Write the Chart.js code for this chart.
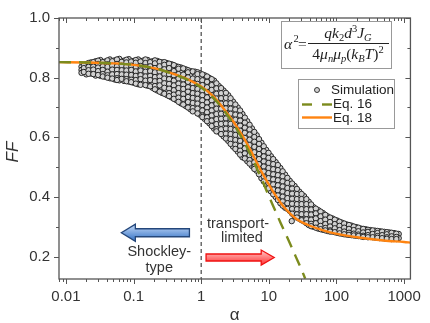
<!DOCTYPE html>
<html>
<head>
<meta charset="utf-8">
<script src="https://cdn.jsdelivr.net/npm/chart.js@4.4.1/dist/chart.umd.min.js"></script>
<style>
  body { margin: 0; background: #fff; }
  #wrap { width: 430px; height: 323px; }
</style>
</head>
<body>
<div id="wrap"><canvas id="ffChart"></canvas></div>
<script>
// axis ticks
const alphaTicks = [0.01, 0.1, 1, 10, 100, 1000];
const ffTicks = [0.2, 0.4, 0.6, 0.8, 1.0];
const ffMinorTicks = [0.3, 0.5, 0.7, 0.9];

// simulation cloud: one column of FF values per alpha
const simAlpha = [
  0.0170, 0.0200, 0.0234, 0.0275, 0.0324, 0.0380, 0.0447, 0.0525, 0.0617, 0.0724,
  0.0851, 0.100, 0.117, 0.138, 0.162, 0.191, 0.224, 0.263, 0.309, 0.363,
  0.427, 0.501, 0.589, 0.692, 0.813, 0.955, 1.12, 1.32, 1.55, 1.82,
  2.14, 2.51, 2.95, 3.47, 4.07, 4.79, 5.62, 6.61, 7.76, 9.12,
  10.7, 12.6, 14.8, 17.4, 20.4, 24.0, 28.2, 33.1, 38.9, 45.7,
  53.7, 63.1, 74.1, 87.1, 102, 120, 141, 166, 195, 229,
  269, 316, 372, 437, 513, 603, 708, 832, 21.8,
  0.0184, 0.0216, 0.0254, 0.0299, 0.0351, 0.0412, 0.0484, 0.0569, 0.0668, 0.0785,
  0.0923, 0.108, 0.127, 0.150, 0.176, 0.207, 0.243, 0.285, 0.335, 0.394,
  0.462, 0.543, 0.638, 0.750, 0.881, 1.04, 1.22, 1.43, 1.68, 1.97,
  2.32, 2.72, 3.20, 3.76, 4.42, 5.19, 6.10, 7.16, 8.41, 9.89,
  11.6, 13.6, 16.0, 18.8, 22.1, 26.0, 30.5, 35.9, 42.2, 49.5,
  58.2, 68.4, 80.4, 94.4, 111, 130, 153, 180, 211, 248,
  292, 343, 403, 473, 556, 653, 767
];
const simFF = [
  [0.837, 0.826, 0.816],
  [0.846, 0.831, 0.821, 0.811],
  [0.851, 0.839, 0.824, 0.814],
  [0.855, 0.844, 0.830, 0.818, 0.807],
  [0.859, 0.848, 0.833, 0.821, 0.806],
  [0.854, 0.840, 0.829, 0.814, 0.803],
  [0.861, 0.849, 0.834, 0.822, 0.807, 0.798],
  [0.858, 0.843, 0.831, 0.815, 0.803, 0.794],
  [0.863, 0.850, 0.835, 0.821, 0.805, 0.791],
  [0.857, 0.845, 0.829, 0.817, 0.801, 0.789],
  [0.862, 0.846, 0.833, 0.818, 0.804, 0.787],
  [0.856, 0.843, 0.827, 0.813, 0.796, 0.783],
  [0.861, 0.847, 0.833, 0.816, 0.803, 0.788, 0.778],
  [0.857, 0.841, 0.828, 0.811, 0.797, 0.782],
  [0.859, 0.846, 0.830, 0.816, 0.799, 0.787, 0.773],
  [0.855, 0.839, 0.826, 0.809, 0.796, 0.779, 0.766],
  [0.856, 0.842, 0.825, 0.812, 0.795, 0.782, 0.765, 0.757],
  [0.851, 0.835, 0.822, 0.805, 0.791, 0.774, 0.761, 0.749],
  [0.849, 0.836, 0.818, 0.804, 0.786, 0.772, 0.755, 0.742],
  [0.845, 0.829, 0.815, 0.797, 0.783, 0.765, 0.751, 0.734],
  [0.838, 0.823, 0.805, 0.791, 0.773, 0.759, 0.741, 0.725],
  [0.834, 0.817, 0.803, 0.785, 0.771, 0.753, 0.739, 0.721, 0.714],
  [0.828, 0.813, 0.795, 0.781, 0.763, 0.749, 0.731, 0.717, 0.705],
  [0.822, 0.805, 0.791, 0.772, 0.758, 0.740, 0.726, 0.708, 0.694],
  [0.820, 0.805, 0.787, 0.772, 0.754, 0.740, 0.721, 0.707, 0.689],
  [0.815, 0.798, 0.784, 0.765, 0.751, 0.732, 0.718, 0.699, 0.685, 0.676],
  [0.808, 0.793, 0.774, 0.760, 0.741, 0.727, 0.708, 0.693, 0.675, 0.662],
  [0.799, 0.782, 0.767, 0.748, 0.734, 0.715, 0.700, 0.681, 0.666, 0.647],
  [0.790, 0.774, 0.755, 0.741, 0.722, 0.707, 0.688, 0.673, 0.654, 0.639, 0.629],
  [0.772, 0.756, 0.737, 0.722, 0.703, 0.688, 0.669, 0.654, 0.635, 0.619],
  [0.757, 0.739, 0.724, 0.705, 0.690, 0.671, 0.655, 0.636, 0.621, 0.603],
  [0.741, 0.725, 0.706, 0.691, 0.671, 0.656, 0.637, 0.622, 0.603, 0.588],
  [0.720, 0.702, 0.687, 0.668, 0.653, 0.633, 0.618, 0.599, 0.584, 0.569],
  [0.700, 0.684, 0.665, 0.649, 0.630, 0.615, 0.596, 0.581, 0.562, 0.552],
  [0.678, 0.660, 0.645, 0.626, 0.610, 0.591, 0.576, 0.557, 0.542, 0.533],
  [0.654, 0.638, 0.619, 0.603, 0.584, 0.569, 0.550, 0.535, 0.520],
  [0.630, 0.612, 0.597, 0.577, 0.562, 0.543, 0.528, 0.509, 0.504],
  [0.607, 0.591, 0.572, 0.557, 0.537, 0.522, 0.503, 0.488],
  [0.582, 0.564, 0.549, 0.530, 0.515, 0.496, 0.481, 0.463],
  [0.558, 0.542, 0.523, 0.508, 0.489, 0.474, 0.455, 0.440],
  [0.537, 0.519, 0.504, 0.485, 0.470, 0.451, 0.436, 0.419],
  [0.517, 0.501, 0.482, 0.467, 0.448, 0.433, 0.414, 0.400],
  [0.497, 0.479, 0.464, 0.445, 0.430, 0.411, 0.396, 0.379],
  [0.475, 0.459, 0.440, 0.425, 0.406, 0.391, 0.372, 0.364],
  [0.454, 0.436, 0.421, 0.402, 0.387, 0.368, 0.353],
  [0.437, 0.421, 0.402, 0.387, 0.368, 0.353, 0.336],
  [0.418, 0.400, 0.385, 0.366, 0.351, 0.332, 0.327],
  [0.403, 0.387, 0.368, 0.353, 0.334, 0.318],
  [0.384, 0.366, 0.351, 0.332, 0.317, 0.306],
  [0.366, 0.351, 0.333, 0.319, 0.300],
  [0.356, 0.340, 0.326, 0.308, 0.294],
  [0.346, 0.332, 0.315, 0.302, 0.290],
  [0.335, 0.319, 0.306, 0.290, 0.286],
  [0.328, 0.314, 0.297, 0.284],
  [0.321, 0.305, 0.293, 0.280],
  [0.314, 0.301, 0.285, 0.277],
  [0.308, 0.294, 0.283, 0.274],
  [0.304, 0.292, 0.278, 0.272],
  [0.299, 0.286, 0.276, 0.270],
  [0.294, 0.284, 0.271, 0.268],
  [0.292, 0.279, 0.268],
  [0.289, 0.278, 0.266],
  [0.287, 0.275, 0.264],
  [0.285, 0.274, 0.262],
  [0.283, 0.270, 0.261],
  [0.281, 0.269, 0.260],
  [0.279, 0.267, 0.259],
  [0.276, 0.262],
  [0.319],
  // staggered columns
  [0.842, 0.832, 0.819],
  [0.849, 0.836, 0.825, 0.813],
  [0.852, 0.837, 0.827, 0.812],
  [0.857, 0.846, 0.834, 0.822, 0.809],
  [0.852, 0.838, 0.826, 0.812, 0.804],
  [0.858, 0.845, 0.836, 0.820, 0.808, 0.800],
  [0.855, 0.840, 0.827, 0.811, 0.797],
  [0.861, 0.846, 0.838, 0.826, 0.812, 0.798, 0.792],
  [0.853, 0.840, 0.825, 0.811, 0.796],
  [0.860, 0.851, 0.838, 0.824, 0.810, 0.795, 0.788],
  [0.854, 0.840, 0.826, 0.809, 0.793, 0.785],
  [0.859, 0.850, 0.836, 0.821, 0.806, 0.792, 0.780],
  [0.854, 0.839, 0.824, 0.808, 0.795, 0.776],
  [0.861, 0.849, 0.835, 0.820, 0.804, 0.790, 0.775],
  [0.852, 0.838, 0.822, 0.806, 0.792, 0.771],
  [0.858, 0.848, 0.832, 0.818, 0.802, 0.788, 0.772, 0.761],
  [0.853, 0.838, 0.820, 0.804, 0.789, 0.774, 0.753],
  [0.852, 0.843, 0.828, 0.812, 0.797, 0.781, 0.766, 0.746],
  [0.847, 0.832, 0.811, 0.795, 0.779, 0.763, 0.748, 0.738],
  [0.842, 0.822, 0.808, 0.790, 0.774, 0.758, 0.743, 0.729],
  [0.836, 0.830, 0.812, 0.797, 0.780, 0.765, 0.748, 0.733, 0.719],
  [0.831, 0.810, 0.794, 0.777, 0.762, 0.745, 0.729, 0.710],
  [0.825, 0.818, 0.801, 0.786, 0.768, 0.753, 0.735, 0.718, 0.700],
  [0.821, 0.797, 0.780, 0.765, 0.748, 0.732, 0.715, 0.698, 0.687],
  [0.818, 0.812, 0.795, 0.779, 0.762, 0.746, 0.729, 0.713, 0.696, 0.680],
  [0.811, 0.791, 0.775, 0.757, 0.741, 0.724, 0.708, 0.690, 0.673, 0.668],
  [0.804, 0.786, 0.768, 0.752, 0.734, 0.717, 0.700, 0.684, 0.667, 0.654],
  [0.795, 0.775, 0.759, 0.741, 0.724, 0.707, 0.690, 0.673, 0.656, 0.638],
  [0.781, 0.764, 0.746, 0.730, 0.712, 0.696, 0.678, 0.661, 0.644, 0.627, 0.620],
  [0.765, 0.748, 0.731, 0.713, 0.696, 0.679, 0.662, 0.645, 0.627, 0.611],
  [0.749, 0.732, 0.714, 0.697, 0.680, 0.663, 0.646, 0.629, 0.612, 0.596],
  [0.731, 0.714, 0.696, 0.679, 0.662, 0.645, 0.628, 0.611, 0.594, 0.578],
  [0.710, 0.693, 0.676, 0.659, 0.642, 0.625, 0.608, 0.591, 0.575, 0.561],
  [0.690, 0.673, 0.656, 0.639, 0.622, 0.605, 0.588, 0.571, 0.555, 0.542],
  [0.666, 0.649, 0.632, 0.615, 0.598, 0.580, 0.563, 0.546, 0.529],
  [0.642, 0.626, 0.609, 0.592, 0.574, 0.557, 0.540, 0.524, 0.512],
  [0.618, 0.601, 0.585, 0.568, 0.550, 0.533, 0.516, 0.500, 0.494],
  [0.594, 0.578, 0.561, 0.544, 0.527, 0.510, 0.493, 0.476],
  [0.570, 0.553, 0.536, 0.519, 0.502, 0.485, 0.468, 0.452],
  [0.548, 0.531, 0.514, 0.497, 0.480, 0.463, 0.446, 0.429],
  [0.527, 0.510, 0.493, 0.476, 0.459, 0.442, 0.425, 0.409],
  [0.507, 0.490, 0.473, 0.456, 0.439, 0.422, 0.405, 0.390],
  [0.486, 0.469, 0.452, 0.435, 0.418, 0.401, 0.385, 0.371],
  [0.464, 0.447, 0.430, 0.413, 0.396, 0.379, 0.360],
  [0.445, 0.428, 0.411, 0.394, 0.377, 0.360, 0.344],
  [0.427, 0.410, 0.393, 0.376, 0.359, 0.342, 0.331],
  [0.410, 0.393, 0.376, 0.359, 0.342, 0.325, 0.322],
  [0.393, 0.376, 0.359, 0.342, 0.325, 0.312],
  [0.375, 0.358, 0.341, 0.324, 0.310, 0.302],
  [0.361, 0.345, 0.328, 0.312, 0.297],
  [0.351, 0.335, 0.319, 0.303, 0.292],
  [0.340, 0.324, 0.309, 0.296, 0.288],
  [0.331, 0.316, 0.301, 0.288, 0.284],
  [0.324, 0.309, 0.295, 0.282],
  [0.317, 0.303, 0.289, 0.278],
  [0.311, 0.297, 0.284, 0.275],
  [0.306, 0.293, 0.280, 0.273],
  [0.301, 0.289, 0.277, 0.271],
  [0.297, 0.285, 0.274, 0.269],
  [0.293, 0.281, 0.270, 0.266],
  [0.290, 0.283, 0.272, 0.265],
  [0.288, 0.276, 0.265],
  [0.286, 0.279, 0.269, 0.263],
  [0.284, 0.272, 0.262],
  [0.282, 0.275, 0.265, 0.260],
  [0.280, 0.268, 0.259],
  [0.277, 0.266, 0.259]
];

// Eq. 16 (dashed) and Eq. 18 (solid)
const eq16Alpha = [0.0079, 0.02, 0.05, 0.1, 0.2, 0.4, 0.6, 1, 1.5, 2, 3, 4, 5, 6, 8, 10, 12, 15, 20, 25, 30, 34.5];
const eq16FF = [0.852, 0.851, 0.848, 0.843, 0.832, 0.811, 0.795, 0.767, 0.733, 0.700, 0.645, 0.598, 0.556, 0.518, 0.455, 0.403, 0.362, 0.312, 0.250, 0.200, 0.160, 0.126];
const eq18Alpha = [0.0079, 0.02, 0.05, 0.1, 0.2, 0.4, 0.6, 1, 1.5, 2, 3, 4, 5, 6, 7, 8, 10, 12, 15, 18, 25, 38, 60, 93, 200, 500, 1000, 1240];
const eq18FF = [0.852, 0.851, 0.848, 0.843, 0.832, 0.812, 0.797, 0.770, 0.738, 0.705, 0.652, 0.608, 0.570, 0.535, 0.505, 0.480, 0.442, 0.412, 0.380, 0.358, 0.328, 0.306, 0.290, 0.278, 0.265, 0.254, 0.249, 0.247];

const simPoints = simAlpha.flatMap((a, i) => simFF[i].map(f => ({ x: a, y: f })));
const toXY = (xs, ys) => xs.map((x, i) => ({ x: x, y: ys[i] }));

const SANS = '"Liberation Sans", Arial, sans-serif';
const SERIF = '"Liberation Serif", "Times New Roman", serif';
const INK = '#333';

function arrow(ctx, x0, x1, y, shaft, head, headLen, fill, stroke) {
  const dir = Math.sign(x1 - x0);
  const xb = x1 - dir * headLen;
  ctx.beginPath();
  ctx.moveTo(x0, y - shaft / 2);
  ctx.lineTo(xb, y - shaft / 2);
  ctx.lineTo(xb, y - head / 2);
  ctx.lineTo(x1, y);
  ctx.lineTo(xb, y + head / 2);
  ctx.lineTo(xb, y + shaft / 2);
  ctx.lineTo(x0, y + shaft / 2);
  ctx.closePath();
  ctx.fillStyle = fill;
  ctx.fill();
  ctx.strokeStyle = stroke;
  ctx.lineWidth = 1.3;
  ctx.stroke();
}

// text runs with sub/superscripts, centred on cx
function runs(ctx, parts, cx, y) {
  let w = 0;
  parts.forEach(p => { ctx.font = p[1]; p.w = ctx.measureText(p[0]).width; w += p.w; });
  let x = cx - w / 2;
  parts.forEach(p => { ctx.font = p[1]; ctx.fillText(p[0], x, y + (p[2] || 0)); x += p.w; });
}

const decor = {
  id: 'decor',
  beforeDatasetsDraw(chart) {
    const { ctx, chartArea: ca, scales: { x } } = chart;
    const px = x.getPixelForValue(1);
    ctx.save();
    ctx.strokeStyle = '#555';
    ctx.lineWidth = 1.3;
    ctx.setLineDash([4, 3]);
    ctx.beginPath();
    ctx.moveTo(px, ca.top);
    ctx.lineTo(px, ca.bottom);
    ctx.stroke();
    ctx.restore();
  },
  afterDatasetsDraw(chart) {
    const { ctx, chartArea: ca, scales: { x, y } } = chart;
    ctx.save();

    // frame
    ctx.strokeStyle = '#555';
    ctx.lineWidth = 1.3;
    ctx.strokeRect(ca.left, ca.top, ca.right - ca.left, ca.bottom - ca.top);

    // x ticks: out at bottom, in at top
    ctx.lineWidth = 1;
    ctx.beginPath();
    for (let e = -3; e <= 3; e++) {
      for (let m = 1; m <= 9; m++) {
        const v = m * Math.pow(10, e);
        if (v < x.min || v > x.max) continue;
        const p = Math.round(x.getPixelForValue(v)) + 0.5;
        const len = m === 1 ? 5 : 3;
        ctx.moveTo(p, ca.bottom); ctx.lineTo(p, ca.bottom + len);
        ctx.moveTo(p, ca.top); ctx.lineTo(p, ca.top + len);
      }
    }
    // y ticks: out at left, in at right
    ffTicks.concat(ffMinorTicks).forEach(v => {
      const p = Math.round(y.getPixelForValue(v)) + 0.5;
      const len = ffTicks.includes(v) ? 5 : 3;
      ctx.moveTo(ca.left - len, p); ctx.lineTo(ca.left, p);
      ctx.moveTo(ca.right - len, p); ctx.lineTo(ca.right, p);
    });
    ctx.stroke();

    // axis titles
    ctx.fillStyle = INK;
    ctx.textAlign = 'center';
    ctx.textBaseline = 'middle';
    ctx.font = '17px ' + SANS;
    ctx.fillText('\u03b1', (ca.left + ca.right) / 2, 315);
    ctx.save();
    ctx.translate(13, 152);
    ctx.rotate(-Math.PI / 2);
    ctx.font = 'italic 17px ' + SANS;
    ctx.fillText('FF', 0, 0);
    ctx.restore();

    // equation box
    ctx.fillStyle = '#fff';
    ctx.fillRect(281, 21, 110, 47);
    ctx.strokeStyle = '#999';
    ctx.lineWidth = 1;
    ctx.strokeRect(281.5, 21.5, 110, 47);
    ctx.fillStyle = '#222';
    ctx.textAlign = 'left';
    ctx.textBaseline = 'alphabetic';
    const it = 'italic 15.5px ' + SERIF, up = '15.5px ' + SERIF;
    const sIt = 'italic 10.5px ' + SERIF, sUp = '10.5px ' + SERIF;
    ctx.font = it; ctx.fillText('\u03b1', 284, 49);
    ctx.font = sUp; ctx.fillText('2', 293.5, 42);
    ctx.font = up; ctx.fillText('=', 298, 49);
    ctx.strokeStyle = '#222';
    ctx.beginPath(); ctx.moveTo(308, 43.5); ctx.lineTo(389, 43.5); ctx.stroke();
    runs(ctx, [['q', it], ['k', it], ['2', sUp, 3], ['d', it], ['3', sUp, -6], ['J', it], ['G', sIt, 3]], 348, 38);
    runs(ctx, [['4', up], ['\u03bc', it], ['n', sIt, 3], ['\u03bc', it], ['p', sIt, 3], ['(', up], ['k', it], ['B', sIt, 3],
      ['T', it], [')', up], ['2', sUp, -6]], 348, 59);

    // legend
    ctx.fillStyle = '#fff';
    ctx.fillRect(298, 79, 96, 49);
    ctx.strokeStyle = '#999';
    ctx.strokeRect(298.5, 79.5, 96, 49);
    const ds = chart.data.datasets;
    ctx.beginPath();
    ctx.arc(317, 90, 2.5, 0, Math.PI * 2);
    ctx.fillStyle = ds[2].backgroundColor; ctx.fill();
    ctx.strokeStyle = ds[2].borderColor; ctx.lineWidth = 0.9; ctx.stroke();
    ctx.lineWidth = 2.4;
    ctx.strokeStyle = ds[0].borderColor;
    ctx.setLineDash([10, 10]);
    ctx.beginPath(); ctx.moveTo(302, 104.5); ctx.lineTo(332, 104.5); ctx.stroke();
    ctx.setLineDash([]);
    ctx.strokeStyle = ds[1].borderColor;
    ctx.beginPath(); ctx.moveTo(302, 117.5); ctx.lineTo(332, 117.5); ctx.stroke();
    ctx.fillStyle = '#222';
    ctx.font = '13.5px ' + SANS;
    ctx.textBaseline = 'middle';
    ctx.fillText('Simulation', 331, 90);
    ctx.fillText('Eq. 16', 333, 104);
    ctx.fillText('Eq. 18', 333, 118);

    // regime arrows and labels
    const ya = y.getPixelForValue(0.28), yb = y.getPixelForValue(0.197);
    let g = ctx.createLinearGradient(0, ya - 5, 0, ya + 5);
    g.addColorStop(0, '#a9c6ee'); g.addColorStop(1, '#4f86cf');
    arrow(ctx, x.getPixelForValue(0.67), x.getPixelForValue(0.066), ya, 8, 17, 14, g, '#24477a');
    g = ctx.createLinearGradient(0, yb - 5, 0, yb + 5);
    g.addColorStop(0, '#ffb0b0'); g.addColorStop(1, '#ff4a4a');
    arrow(ctx, x.getPixelForValue(1.18), x.getPixelForValue(12), yb, 7, 15, 13, g, '#f01010');

    ctx.fillStyle = INK;
    ctx.textAlign = 'center';
    ctx.font = '14.5px ' + SANS;
    ctx.fillText('Shockley-', x.getPixelForValue(0.24), y.getPixelForValue(0.216));
    ctx.fillText('type', x.getPixelForValue(0.24), y.getPixelForValue(0.161));
    ctx.fillText('transport-', x.getPixelForValue(3.5), y.getPixelForValue(0.309));
    ctx.fillText('limited', x.getPixelForValue(4.0), y.getPixelForValue(0.261));
    ctx.restore();
  }
};

new Chart(document.getElementById('ffChart'), {
  type: 'scatter',
  data: {
    datasets: [
      {
        label: 'Eq. 16',
        data: toXY(eq16Alpha, eq16FF),
        showLine: true,
        borderColor: '#7c8b1d',
        borderWidth: 2.4,
        borderDash: [12, 8],
        pointRadius: 0,
        cubicInterpolationMode: 'monotone',
        order: 0
      },
      {
        label: 'Eq. 18',
        data: toXY(eq18Alpha, eq18FF),
        showLine: true,
        borderColor: '#ff8410',
        borderWidth: 2.4,
        pointRadius: 0,
        cubicInterpolationMode: 'monotone',
        order: 1
      },
      {
        label: 'Simulation',
        data: simPoints,
        pointRadius: 2.7,
        backgroundColor: '#d2d2d2',
        borderColor: '#262626',
        borderWidth: 1,
        order: 2
      }
    ]
  },
  options: {
    responsive: true,
    maintainAspectRatio: false,
    animation: false,
    layout: { padding: { top: 7, right: 11, left: 0, bottom: 0 } },
    plugins: { legend: { display: false }, tooltip: { enabled: false } },
    scales: {
      x: {
        type: 'logarithmic',
        min: 0.0079,
        max: 1240,
        grid: { display: false, drawTicks: false },
        border: { display: false },
        afterBuildTicks: s => { s.ticks = alphaTicks.map(v => ({ value: v })); },
        afterFit: s => { s.height = 44; },
        ticks: {
          autoSkip: false,
          maxRotation: 0,
          padding: 9,
          color: INK,
          font: { family: SANS, size: 15 },
          callback: v => String(v)
        }
      },
      y: {
        min: 0.125,
        max: 1.0,
        grid: { display: false, drawTicks: false },
        border: { display: false },
        afterBuildTicks: s => { s.ticks = ffTicks.map(v => ({ value: v })); },
        afterFit: s => { s.width = 59; },
        ticks: {
          padding: 9,
          color: INK,
          font: { family: SANS, size: 15 },
          callback: v => v.toFixed(1)
        }
      }
    }
  },
  plugins: [decor]
});
</script>
</body>
</html>
